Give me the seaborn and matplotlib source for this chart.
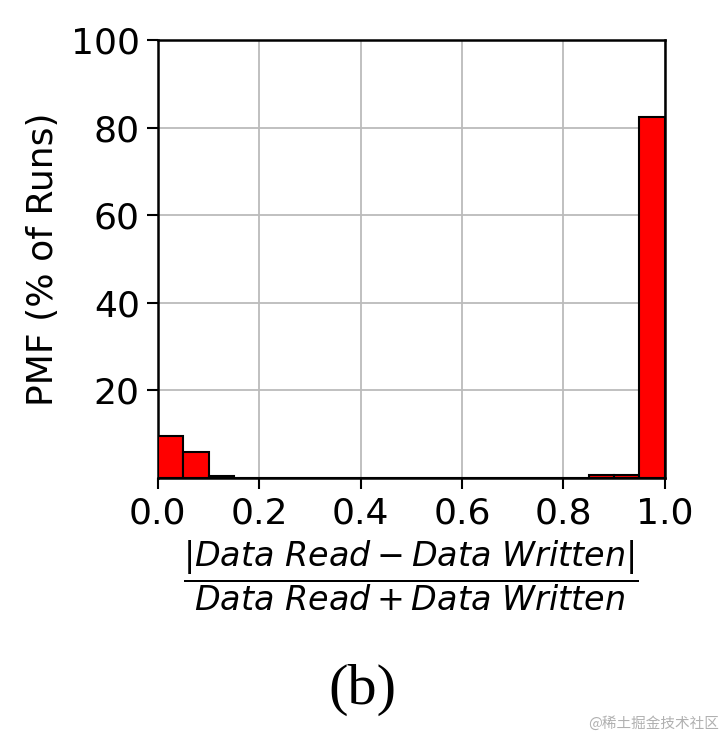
import matplotlib
matplotlib.use("Agg")
import matplotlib.pyplot as plt
import seaborn as sns
import numpy as np

# bin edges and PMF values (% of runs)
bin_edges = [round(0.05 * i, 2) for i in range(21)]
bin_centers = [round(0.025 + 0.05 * i, 3) for i in range(20)]
pmf = [9.7, 5.9, 0.4, 0.1, 0.05, 0.03, 0.02, 0.02, 0.03, 0.05,
       0.03, 0.02, 0.02, 0.02, 0.02, 0.03, 0.05, 0.6, 0.8, 82.4]

x_ticks = [0.0, 0.2, 0.4, 0.6, 0.8, 1.0]
y_ticks = [20, 40, 60, 80, 100]

sns.set_style("white")
plt.rcParams['font.family'] = ['DejaVu Sans']
plt.rcParams['mathtext.fontset'] = 'dejavusans'
plt.rcParams['text.color'] = 'black'
plt.rcParams['axes.labelcolor'] = 'black'
plt.rcParams['xtick.color'] = 'black'
plt.rcParams['ytick.color'] = 'black'

fig = plt.figure(figsize=(7.24, 7.40), dpi=100)
ax = fig.add_axes([0.218, 0.354, 0.700, 0.592])

sns.histplot(x=bin_centers, weights=pmf, bins=bin_edges, color='red',
             edgecolor='black', linewidth=1.5, alpha=1, ax=ax, zorder=3)

ax.set_xlim(0, 1)
ax.set_ylim(0, 100)
ax.set_xticks(x_ticks)
ax.set_yticks(y_ticks)
ax.grid(True, color='#bbbbbb', linewidth=1.3, zorder=0)
ax.set_axisbelow(True)
for s in ax.spines.values():
    s.set_color('black')
    s.set_linewidth(1.8)
ax.tick_params(axis='both', labelsize=26, length=8, width=1.5, direction='out',
               bottom=True, left=True, pad=5)
ax.set_ylabel('PMF (% of Runs)', fontsize=26, labelpad=8)
ax.set_xlabel(r'$\dfrac{|Data\ Read - Data\ Written|}{Data\ Read + Data\ Written}$',
              fontsize=24, labelpad=6)

fig.text(0.5, 0.068, '(b)', ha='center', va='center', fontsize=42,
         family='Liberation Serif')
fig.text(0.993, 0.022, '@稀土掘金技术社区', ha='right', va='center', fontsize=10.5,
         color='#b0b0b0', family=['Noto Sans CJK SC', 'DejaVu Sans'])

fig.savefig('out.png', dpi=100)
